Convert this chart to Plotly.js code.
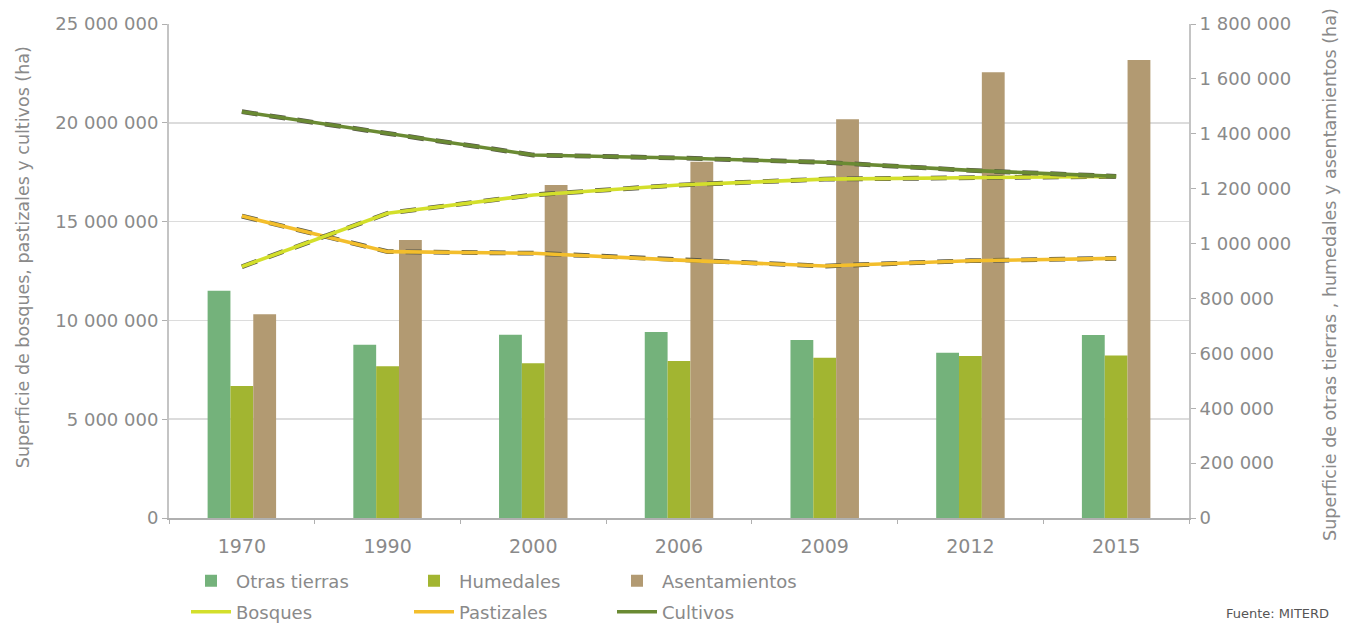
<!DOCTYPE html>
<html>
<head>
<meta charset="utf-8">
<script src="https://cdn.plot.ly/plotly-3.0.1.min.js"></script>
<style>
  html, body { margin: 0; padding: 0; background: #fff; }
  #chart { width: 1348px; height: 625px; }
</style>
</head>
<body>
<div id="chart"></div>
<script>
// ---- Data ----
const years = ['1970', '1990', '2000', '2006', '2009', '2012', '2015'];

// Right axis (ha): bars
const otrasTierras  = [828000, 631000, 668000, 678000, 649000, 602000, 667000];
const humedales     = [481000, 553000, 564000, 572000, 584000, 590000, 592000];
const asentamientos = [742000, 1013000, 1213000, 1298000, 1453000, 1624000, 1669000];

// Left axis (ha): lines
const bosques    = [12720000, 15420000, 16350000, 16850000, 17150000, 17200000, 17290000];
const pastizales = [15280000, 13480000, 13400000, 13050000, 12750000, 13020000, 13140000];
const cultivos   = [20560000, 19470000, 18370000, 18220000, 18000000, 17590000, 17290000];

const leftTitle  = 'Superficie de bosques, pastizales y cultivos (ha)';
const rightTitle = 'Superficie de otras tierras , humedales y asentamientos (ha)';
const sourceText = 'Fuente: MITERD';

// ---- Styling ----
const FONT = 'DejaVu Sans, Open Sans, sans-serif';
const TXT = '#8a8a8a';
const colors = {
  otras: '#74b27b',
  hum: '#a2b531',
  asent: '#b29a72',
  bosq: '#d3df2b',
  past: '#f3be2c',
  cult: '#6a8a33'
};
const SHADOW = '#555547';

function bar(name, y, color, legendId) {
  return {
    type: 'bar', name: name, x: years, y: y, yaxis: 'y',
    marker: { color: color, line: { width: 0 } },
    legend: legendId, hoverinfo: 'name+y'
  };
}
function lineShadow(y) {
  return {
    type: 'scatter', mode: 'lines', x: years, y: y, yaxis: 'y2',
    line: { color: SHADOW, width: 4.8, dash: '16px,12px' },
    showlegend: false, hoverinfo: 'skip'
  };
}
function line(name, y, color, legendId) {
  return {
    type: 'scatter', mode: 'lines', name: name, x: years, y: y, yaxis: 'y2',
    line: { color: color, width: 3.6 },
    legend: legendId
  };
}

const data = [
  bar('Otras tierras', otrasTierras, colors.otras, 'legend'),
  bar('Humedales', humedales, colors.hum, 'legend2'),
  bar('Asentamientos', asentamientos, colors.asent, 'legend3'),
  lineShadow(pastizales),
  line('Pastizales', pastizales, colors.past, 'legend5'),
  lineShadow(bosques),
  line('Bosques', bosques, colors.bosq, 'legend4'),
  lineShadow(cultivos),
  line('Cultivos', cultivos, colors.cult, 'legend6')
];

const W = 1348, H = 625;
function legendAt(px, py) {
  return {
    xref: 'container', yref: 'container',
    x: px / W, y: (H - py) / H, xanchor: 'left', yanchor: 'middle',
    orientation: 'v', bgcolor: 'rgba(0,0,0,0)',
    font: { family: FONT, size: 18, color: TXT },
    itemwidth: 40
  };
}

const row1 = 581, row2 = 612;
const layout = {
  width: W, height: H,
  margin: { l: 169, r: 159, t: 24, b: 107, pad: 0, autoexpand: false },
  paper_bgcolor: '#ffffff', plot_bgcolor: '#ffffff',
  font: { family: FONT, color: TXT, size: 16 },
  separators: ', ',
  barmode: 'group',
  bargap: 0.53,
  bargroupgap: 0,
  xaxis: {
    type: 'category', automargin: false,
    tickson: 'boundaries',
    ticks: 'outside', ticklen: 4, tickcolor: '#b0b0b0',
    ticklabelstandoff: 10,
    showline: true, linecolor: '#b0b0b0', linewidth: 2,
    showgrid: false,
    tickfont: { family: FONT, size: 19, color: TXT },
    fixedrange: true
  },
  // Bars: right axis (main y so lines drawn in the overlay sit on top)
  yaxis: {
    side: 'right', automargin: false,
    range: [0, 1800000], dtick: 200000, tick0: 0,
    tickformat: ',d',
    showgrid: false, zeroline: false,
    showline: true, linecolor: '#c4c4c4', linewidth: 2,
    ticks: 'outside', ticklen: 5, tickcolor: '#b0b0b0',
    tickfont: { family: FONT, size: 18, color: TXT },
    fixedrange: true
  },
  // Lines: left axis
  yaxis2: {
    overlaying: 'y', side: 'left', automargin: false,
    range: [0, 25000000], dtick: 5000000, tick0: 0,
    tickformat: ',d',
    showgrid: true, gridcolor: '#dcdcdc', gridwidth: 1.5,
    zeroline: false,
    showline: true, linecolor: '#c4c4c4', linewidth: 2,
    ticks: 'outside', ticklen: 5, tickcolor: '#b0b0b0',
    tickfont: { family: FONT, size: 18, color: TXT },
    fixedrange: true
  },
  legend:  legendAt(186, row1),
  legend2: legendAt(409, row1),
  legend3: legendAt(612, row1),
  legend4: legendAt(186, row2),
  legend5: legendAt(409, row2),
  legend6: legendAt(612, row2),
  annotations: [
    {
      text: leftTitle, xref: 'paper', yref: 'paper',
      x: -0.1431, y: 0.528, xanchor: 'center', yanchor: 'middle',
      textangle: -90, showarrow: false,
      font: { family: FONT, size: 17.5, color: TXT }
    },
    {
      text: rightTitle, xref: 'paper', yref: 'paper',
      x: 1.1382, y: 0.494, xanchor: 'center', yanchor: 'middle',
      textangle: -90, showarrow: false,
      font: { family: FONT, size: 17.5, color: TXT }
    },
    {
      text: sourceText, xref: 'paper', yref: 'paper',
      x: 1.034, y: -0.2126, xanchor: 'left', yanchor: 'bottom',
      showarrow: false,
      font: { family: FONT, size: 13, color: '#555' }
    }
  ]
};

Plotly.newPlot('chart', data, layout, { displayModeBar: false, staticPlot: true });
</script>
</body>
</html>
